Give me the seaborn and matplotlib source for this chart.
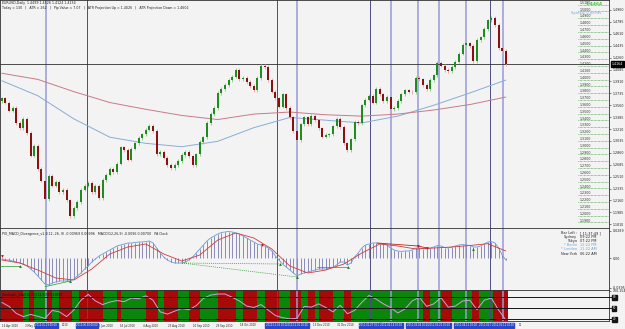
import numpy as np
import pandas as pd
import seaborn as sns
import matplotlib
matplotlib.use("Agg")
import matplotlib.pyplot as plt
import matplotlib.transforms as mtransforms

# ---- price data (2-day bars, Apr 2010 - May 2011) ----
first_open = 1.3625
closes = [1.366, 1.360, 1.348, 1.352, 1.330, 1.322, 1.336, 1.315, 1.282, 1.296,
          1.262, 1.245, 1.218, 1.252, 1.238, 1.243, 1.228, 1.232, 1.216, 1.193,
          1.205, 1.214, 1.232, 1.238, 1.242, 1.228, 1.238, 1.219, 1.246, 1.254,
          1.262, 1.258, 1.270, 1.294, 1.290, 1.276, 1.292, 1.300, 1.308, 1.313,
          1.320, 1.326, 1.318, 1.284, 1.287, 1.279, 1.268, 1.264, 1.268, 1.274,
          1.283, 1.287, 1.281, 1.268, 1.284, 1.302, 1.309, 1.330, 1.343, 1.352,
          1.374, 1.380, 1.386, 1.393, 1.398, 1.408, 1.394, 1.396, 1.390, 1.384,
          1.378, 1.396, 1.414, 1.412, 1.393, 1.376, 1.366, 1.354, 1.372, 1.352,
          1.338, 1.318, 1.305, 1.328, 1.338, 1.328, 1.340, 1.334, 1.322, 1.310,
          1.312, 1.313, 1.325, 1.336, 1.324, 1.300, 1.290, 1.306, 1.332, 1.330,
          1.356, 1.364, 1.370, 1.360, 1.380, 1.372, 1.362, 1.368, 1.350, 1.352,
          1.362, 1.372, 1.378, 1.376, 1.375, 1.396, 1.394, 1.386, 1.380, 1.393,
          1.400, 1.418, 1.414, 1.408, 1.406, 1.412, 1.420, 1.432, 1.445, 1.447,
          1.443, 1.421, 1.452, 1.456, 1.468, 1.481, 1.484, 1.474, 1.440, 1.436,
          1.416]
bid = 1.4164

# moving averages, read every 10 bars
ma_idx = [0, 10, 20, 30, 40, 50, 60, 70, 80, 90, 100, 110, 120, 130, 140]
ma_fast = [1.392, 1.370, 1.336, 1.309, 1.300, 1.295, 1.303, 1.323, 1.338, 1.334,
           1.330, 1.340, 1.356, 1.374, 1.393]
ma_slow = [1.403, 1.394, 1.376, 1.360, 1.350, 1.341, 1.335, 1.343, 1.346, 1.342,
           1.340, 1.343, 1.349, 1.357, 1.368]

# MACD histogram per bar
macd_hist = [-0.001, -0.002, -0.002, -0.003, -0.004, -0.005, -0.006, -0.008, -0.011, -0.014,
             -0.018, -0.022, -0.026, -0.027, -0.025, -0.024, -0.023, -0.023, -0.023, -0.023,
             -0.021, -0.018, -0.015, -0.011, -0.008, -0.004, -0.001, 0.002, 0.004, 0.006,
             0.008, 0.010, 0.012, 0.013, 0.014, 0.015, 0.015, 0.0155, 0.016, 0.016,
             0.0165, 0.017, 0.015, 0.010, 0.005, 0.001, -0.002, -0.004, -0.005, -0.005,
             -0.005, -0.004, -0.002, 0.001, 0.005, 0.009, 0.013, 0.017, 0.020, 0.022,
             0.024, 0.0255, 0.026, 0.0265, 0.026, 0.025, 0.024, 0.022, 0.020, 0.018,
             0.016, 0.014, 0.013, 0.012, 0.010, 0.007, 0.002, -0.002, -0.006, -0.009,
             -0.012, -0.015, -0.018, -0.016, -0.015, -0.014, -0.013, -0.012, -0.011, -0.011,
             -0.011, -0.010, -0.009, -0.007, -0.004, -0.004, -0.007, -0.005, 0.001, 0.005,
             0.010, 0.013, 0.014, 0.015, 0.015, 0.0145, 0.014, 0.013, 0.010, 0.008,
             0.007, 0.0065, 0.007, 0.007, 0.008, 0.010, 0.010, 0.0095, 0.009, 0.010,
             0.011, 0.0125, 0.012, 0.0105, 0.010, 0.011, 0.012, 0.013, 0.0135, 0.013,
             0.0125, 0.011, 0.011, 0.012, 0.014, 0.016, 0.0165, 0.015, 0.010, 0.003,
             -0.002]
sig_idx = list(range(0, 141, 5))
macd_signal = [-0.002, -0.005, -0.012, -0.020, -0.022, -0.011, 0.004, 0.011, 0.014, 0.004,
               -0.003, 0.003, 0.018, 0.025, 0.020, 0.009, -0.008, -0.015, -0.012, -0.006,
               0.005, 0.014, 0.012, 0.009, 0.010, 0.011, 0.0125, 0.0143, 0.007]

# divergence segments (bar0, val0, bar1, val1)
bull_solid = [(-0.5, -0.008, 5.1, -0.008), (12.0, -0.0287, 19.0, -0.023),
              (87.6, -0.009, 96.2, -0.009)]
bull_dotted = [(50.0, -0.005, 77.3, -0.006), (50.0, -0.005, 82.0, -0.019)]
bull_marks = [(5.1, -0.008), (19.0, -0.023), (77.3, -0.006), (82.0, -0.019),
              (96.2, -0.009), (130.9, 0.009)]
bear_solid = [(104.2, 0.015, 115.6, 0.012), (115.6, 0.012, 118.1, 0.010)]
bear_marks = [(0.0, 0.002), (72.3, 0.013), (115.6, 0.012), (118.1, 0.010)]

# stochastic line every 2 bars
stoch_idx = list(range(0, 141, 2))
stoch = [66, 55, 36, 27, 33, 28, 22, 44, 40, 27, 45, 72, 88, 70, 60, 67, 71, 68, 78, 76,
         84, 72, 40, 34, 42, 49, 46, 57, 77, 86, 89, 89, 80, 70, 56, 52, 60, 45, 30, 24,
         21, 22, 55, 53, 62, 52, 40, 58, 35, 44, 66, 85, 75, 62, 52, 37, 48, 70, 80, 55,
         62, 79, 53, 56, 70, 72, 46, 72, 78, 45, 18]
stoch_levels = [80, 50, 20]
# trend band edges (red first, then alternating green / red)
band_edges = [-0.5, 6, 7.5, 9, 12.5, 14, 16, 19.5, 21.5, 28, 32, 33, 40, 43.5, 45, 49,
              52, 55, 60, 65, 67, 71, 73, 77, 80, 83, 85, 87, 88, 92, 95, 97, 117, 119,
              122, 125, 130.5, 132.5, 136.5, 140.5]

# marked dates (vertical lines)
event_bars = [12.3, 23.7, 76.4, 82.0, 102.3, 108.1, 115.6, 121.5, 128.9, 135.6, 139.2]
event_labels = ["2010.05.19 00:00", "2010.06.30 00:00", "2010.11.16 00:00",
                "2010.12.01 00:00", "2011.01.27 00:00", "2011.02.14 00:00",
                "2011.03.04 00:00", "2011.03.22 00:00", "2011.04.11 00:00",
                "2011.05.02 00:00", "2011.05.11 00:00"]
event_dark = [False, True, True, False, True, False, False, False, False, True, False]

# time-axis labels (only the parts left visible beside the marked dates)
date_bars = [0, 6.4, 16.8, 26.4, 32.8, 39.2, 46.2, 53.1, 59.5, 66.2, 86.4, 93.1, 143.6]
date_labels = ["14 Apr 2010", "3 May 2010", "2010", "25 Jun 2010",
               "16 Jul 2010", "4 Aug 2010", "23 Aug 2010", "10 Sep 2010", "29 Sep 2010",
               "18 Oct 2010", "13 Dec 2010", "31 Dec 2010", "11"]

clock_names = ["Bar Left :", "Sydney", "Tokyo", "* Berlin", "* London", "New York"]
clock_times = ["[ 11:37:49 ]", "09:22 PM", "07:22 PM", "12:22 PM", "11:22 AM", "06:22 AM"]

# ---- styling ----
sns.set_style("white")
plt.rcParams['font.family'] = ['DejaVu Sans']
BG = '#f3f3f3'
UP, DOWN = '#1e8c1e', '#8c1010'
UP_W, DOWN_W = '#86c886', '#e2a4aa'
W, H = 625, 329

fig = plt.figure(figsize=(W / 100, H / 100), dpi=100)
fig.patch.set_facecolor(BG)


def px_axes(x0, y0, x1, y1):
    return fig.add_axes([x0 / W, 1 - y1 / H, (x1 - x0) / W, (y1 - y0) / H])


ax_main = px_axes(0, 0, 609, 228)
ax_macd = px_axes(0, 228, 609, 290)
ax_st = px_axes(0, 290, 609, 321)
XMAX = 609 / 3.6 - 0.5

for ax in (ax_main, ax_macd, ax_st):
    ax.set_facecolor(BG)
    ax.set_xlim(-0.5, XMAX)
    ax.set_xticks([])
    ax.yaxis.tick_right()
    ax.tick_params(axis='y', labelsize=2.3, length=1.5, width=0.4, pad=1, colors='#222222')
    for s in ax.spines.values():
        s.set_color('#303030')
        s.set_linewidth(0.6)
    for b, dark in zip(event_bars, event_dark):
        ax.axvline(b, color='#4c4c86' if dark else '#9a9ad6',
                   lw=0.7 if dark else 1.1, zorder=1)

# ---- main price panel ----
df = pd.DataFrame({'bar': np.arange(len(closes)), 'close': closes})
df['open'] = [first_open] + closes[:-1]
df['up'] = df['close'] >= df['open']
wick_pad = 0.0025
df['lo'] = df[['open', 'close']].min(axis=1)
df['hi'] = df[['open', 'close']].max(axis=1)
ax_main.vlines(df['bar'], df['lo'] - wick_pad, df['hi'] + wick_pad,
               colors=np.where(df['up'], UP_W, DOWN_W), lw=0.6, zorder=3)
ax_main.bar(df['bar'], np.maximum(df['hi'] - df['lo'], 0.0008), bottom=df['lo'],
            width=0.6, color=np.where(df['up'], UP, DOWN), lw=0, zorder=4)

sns.lineplot(x=ma_idx, y=ma_fast, ax=ax_main, color='#86aed6', lw=0.7, zorder=2)
sns.lineplot(x=ma_idx, y=ma_slow, ax=ax_main, color='#c87a88', lw=0.7, zorder=2)

ax_main.axhline(bid, color='#303030', lw=0.6, zorder=2)
ax_main.set_ylim(1.5107 - 228 * 0.00147, 1.5107)
ticks = [1.4960 - 0.0175 * k for k in range(19)]
ax_main.set_yticks(ticks)
ax_main.set_yticklabels([f"{t:.4f}" for t in ticks])

tr_main = mtransforms.blended_transform_factory(ax_main.transAxes, ax_main.transData)
ax_main.text(1.004, bid, f"{bid:.4f}", transform=tr_main, fontsize=2.3, color='white',
             va='center', ha='left', clip_on=False,
             bbox=dict(boxstyle='square,pad=0.25', fc='black', ec='black'), zorder=10)

levels = [round(1.51 - 0.01 * k, 2) for k in range(33)]
for lv in levels:
    ax_main.plot([0.949, 1.0], [lv - 0.0062, lv - 0.0062], transform=tr_main,
                 color='#3a9a3a', lw=0.5, ls=(0, (1, 1)), zorder=5)
    ax_main.text(0.952, lv - 0.0006, f"{lv:.4f}", transform=tr_main, fontsize=2.3,
                 color='#333333', va='top', ha='left', zorder=6)

fig.text(586 / W, 1 - 4 / H, "1.4464", fontsize=3.2, color='#3cc43c', ha='left',
         va='center', weight='bold')
fig.text(571 / W, 1 - 13 / H, "Spread: 0 points", fontsize=2.6, color='#7ea6c8',
         ha='left', va='center')

fig.text(2 / W, 1 - 3 / H, "EURUSD,Daily  1.4499 1.4526 1.4124 1.4134",
         fontsize=2.3, color='#222222', va='center')
fig.text(2 / W, 1 - 8.5 / H,
         "Today = 130   |   ATR = 262   |   Pip Value = 7.07   |   "
         "ATR Projection Up = 1.4026   |   ATR Projection Down = 1.4602",
         fontsize=2.3, color='#222222', va='center')

# ---- MACD panel ----
ax_macd.vlines(np.arange(len(macd_hist)), 0, macd_hist, colors='#8a8ab8', lw=0.7, zorder=2)
sns.lineplot(x=np.arange(len(macd_hist)), y=macd_hist, ax=ax_macd, color='#6a9ad8',
             lw=0.6, zorder=3)
sns.lineplot(x=sig_idx, y=macd_signal, ax=ax_macd, color='#d23a3a', lw=0.6, zorder=4)
for b0, v0, b1, v1 in bull_solid:
    ax_macd.plot([b0, b1], [v0, v1], color='#2a9a2a', lw=0.5, zorder=5)
for b0, v0, b1, v1 in bull_dotted:
    ax_macd.plot([b0, b1], [v0, v1], color='#2a9a2a', lw=0.5, ls=(0, (1.5, 1.5)), zorder=5)
for b0, v0, b1, v1 in bear_solid:
    ax_macd.plot([b0, b1], [v0, v1], color='#c02020', lw=0.6, zorder=5)
bx, by = zip(*bull_marks)
ax_macd.scatter(bx, by, marker='^', s=4, color='#1a7a1a', zorder=6, lw=0)
rx, ry = zip(*bear_marks)
ax_macd.scatter(rx, ry, marker='v', s=4, color='#c01010', zorder=6, lw=0)
ax_macd.set_ylim(-0.032, 0.030)
ax_macd.set_yticks([0.0275, 0.0, -0.0295])
ax_macd.set_yticklabels(["0.0289", "0.00", "-0.0395"])
ax_macd.text(0.004, 0.94, "PIX_MACD_Divergence_v1.1(12, 26, 9) -0.00969 0.00996   "
             "MACD(12,26,9) -0.0096 0.00700   PA Clock", transform=ax_macd.transAxes,
             fontsize=2.3, color='#222222', va='top')

tr_macd = mtransforms.blended_transform_factory(ax_macd.transAxes, ax_macd.transAxes)
for k, (nm, tm) in enumerate(zip(clock_names, clock_times)):
    col = '#6fa4d8' if nm.startswith('*') else '#222222'
    yy = 0.95 - k * 0.066
    ax_macd.text(0.948, yy, nm, transform=tr_macd, fontsize=2.5, color=col,
                 ha='right', va='top')
    ax_macd.text(0.953, yy, tm, transform=tr_macd, fontsize=2.5, color=col,
                 ha='left', va='top')

# ---- stochastic panel ----
for k in range(len(band_edges) - 1):
    ax_st.axvspan(band_edges[k], band_edges[k + 1], color='#a80a0a' if k % 2 == 0 else '#0a860a',
                  lw=0, zorder=0)
sns.lineplot(x=stoch_idx, y=stoch, ax=ax_st, color='#c9a2dc', lw=0.7, zorder=3)
ax_st.set_ylim(15, 100)
tr_st = mtransforms.blended_transform_factory(ax_st.transAxes, ax_st.transData)
for lv in stoch_levels:
    ax_st.plot([0, 1.012], [lv, lv], transform=tr_st, color='#151515', lw=0.7,
               clip_on=False, zorder=4)
    ax_st.text(1.006, lv, str(lv), transform=tr_st, fontsize=2.0, color='white',
               ha='left', va='center', clip_on=False, zorder=6,
               bbox=dict(boxstyle='square,pad=0.2', fc='#151515', ec='#151515'))
ax_st.set_yticks([98])
ax_st.set_yticklabels(["100.154"])
ax_st.text(0.004, 0.93, "Stochastic_Color(14,3,3) 22.9398 23.0197", transform=ax_st.transAxes,
           fontsize=2.1, color='#111111', va='top', zorder=5)

# ---- date row ----
tr_date = mtransforms.blended_transform_factory(ax_st.transData, fig.transFigure)
for b, lab in zip(date_bars, date_labels):
    ax_st.text(b, 1 - 325.5 / H, lab, transform=tr_date, fontsize=1.9, color='#222222',
               ha='left', va='center', clip_on=False)
for b, lab in zip(event_bars, event_labels):
    ax_st.text(b, 1 - 325.5 / H, lab, transform=tr_date, fontsize=1.8, color='white',
               ha='center', va='center', clip_on=False, zorder=8,
               bbox=dict(boxstyle='square,pad=0.25', fc='#2a46cc', ec='#2a46cc'))

fig.savefig("out.png", dpi=100, facecolor=fig.get_facecolor())
